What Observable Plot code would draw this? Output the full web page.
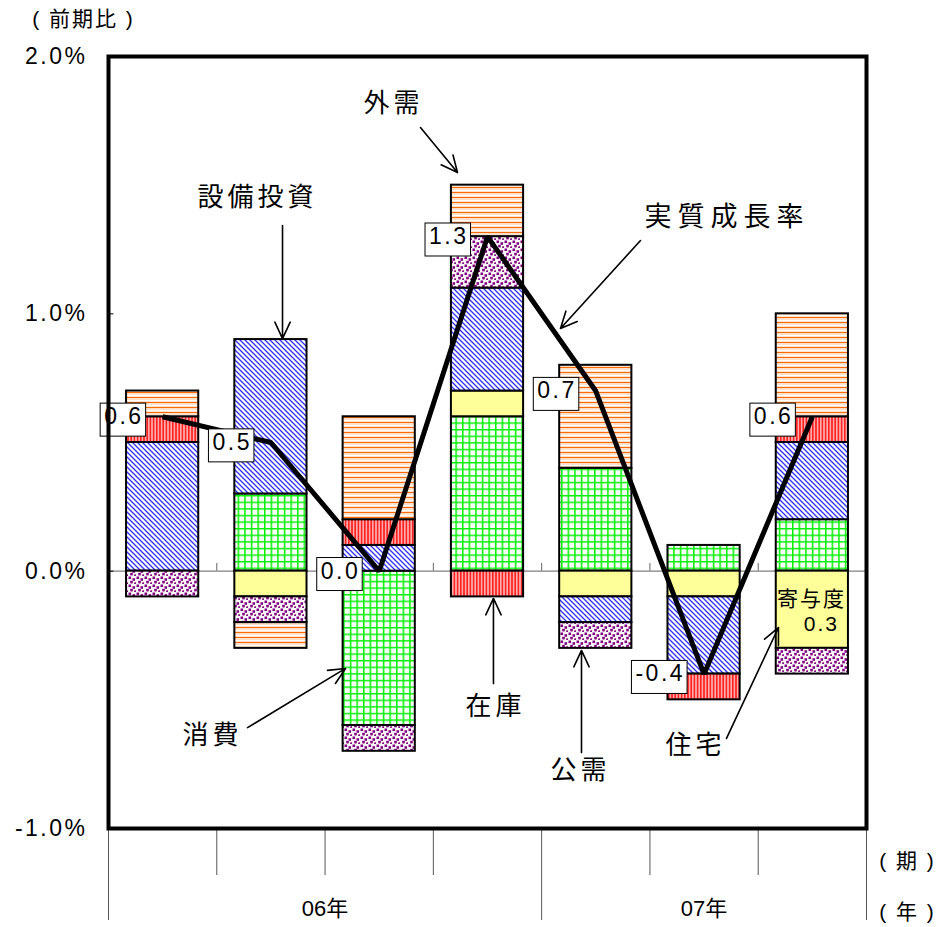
<!DOCTYPE html>
<html><head><meta charset="utf-8">
<script src="https://cdn.jsdelivr.net/npm/d3@7"></script>
<script src="https://cdn.jsdelivr.net/npm/@observablehq/plot@0.6"></script>
<style>
body{margin:0;background:#fff}
g[aria-description="vlabel"] text{letter-spacing:2.5px}
g[aria-description="ytick"] text{letter-spacing:2.5px}
g[aria-description="ann"] text{letter-spacing:4px}
g[aria-description="ann2"] text{letter-spacing:6px}
g[aria-description="kiyo"] text{letter-spacing:2px}
g[aria-description="paren"] text{letter-spacing:2px}
</style>
</head><body>
<svg width="0" height="0" style="position:absolute">
<defs>
<pattern id="p-cons" patternUnits="userSpaceOnUse" width="6.6" height="6.6">
<rect width="6.6" height="6.6" fill="#fff"/>
<path d="M0 0.75H6.6M0.75 0V6.6" stroke="#00f000" stroke-width="1.5"/>
</pattern>
<pattern id="p-house" patternUnits="userSpaceOnUse" width="4" height="4">
<rect width="4" height="4" fill="#ffff99"/>
</pattern>
<pattern id="p-inv" patternUnits="userSpaceOnUse" width="5" height="5">
<rect width="5" height="5" fill="#fff"/>
<path d="M-1 -1L6 6M-1 4L1 6M4 -1L6 1" stroke="#3030ff" stroke-width="1.3"/>
</pattern>
<pattern id="p-pub" patternUnits="userSpaceOnUse" width="8" height="8">
<rect width="8" height="8" fill="#fff"/>
<rect x="0.5" y="0.5" width="2.6" height="2.6" fill="#800080"/>
<rect x="4.5" y="2.2" width="2.6" height="2.6" fill="#800080"/>
<rect x="2.2" y="4.8" width="2.6" height="2.6" fill="#800080"/>
<rect x="6.2" y="6.3" width="1.8" height="1.7" fill="#800080"/>
</pattern>
<pattern id="p-inven" patternUnits="userSpaceOnUse" width="3.2" height="3">
<rect width="3.2" height="3" fill="#ff2020"/>
<path d="M1.6 0V3" stroke="#fff" stroke-width="1"/>
</pattern>
<pattern id="p-ext" patternUnits="userSpaceOnUse" width="5" height="5">
<rect width="5" height="5" fill="#fff"/>
<path d="M0 2.5H5" stroke="#ff6a00" stroke-width="1.4"/>
<path d="M0 4.3H5" stroke="#ffd0b0" stroke-width="0.8"/>
</pattern>
</defs></svg>
<script>
// ---- data ----
const quarters = [1, 2, 3, 4, 5, 6, 7];
const quarterYear = ["06年", "06年", "06年", "06年", "07年", "07年", "07年"];
const components = ["消費", "住宅", "設備投資", "公需", "在庫", "外需"];
const consumption = [0.0, 0.3, -0.6, 0.6, 0.4, 0.1, 0.2];
const housing     = [0.0, -0.1, 0.0, 0.1, -0.1, -0.1, -0.3];
const investment  = [0.5, 0.6, 0.1, 0.4, -0.1, -0.3, 0.3];
const publicDem   = [-0.1, -0.1, -0.1, 0.2, -0.1, 0.0, -0.1];
const inventory   = [0.1, 0.0, 0.1, -0.1, 0.0, -0.1, 0.1];
const external    = [0.1, -0.1, 0.4, 0.2, 0.4, 0.0, 0.4];
const growth      = [0.6, 0.5, 0.0, 1.3, 0.7, -0.4, 0.6];
const yTicks = [2, 1, 0, -1];
const yTickLabels = ["2.0%", "1.0%", "0.0%", "-1.0%"];
// annotations (data coordinates: x in quarter units, y in %)
const annLabels = ["外需", "設備投資", "実質成長率", "消費", "在庫", "公需", "住宅"];
const annTextX  = [3.132, 1.876, 6.212, 1.460, 4.074, 4.859, 5.921];
const annTextY  = [1.817, 1.452, 1.375, -0.639, -0.526, -0.775, -0.678];
const arrowX1   = [3.381, 2.107, 5.413, 1.784, 4.055, 4.868, 6.207];
const arrowY1   = [1.724, 1.343, 1.285, -0.608, -0.437, -0.705, -0.650];
const arrowX2   = [3.723, 2.107, 4.674, 2.689, 4.055, 4.868, 6.687];
const arrowY2   = [1.549, 0.904, 0.943, -0.378, -0.106, -0.308, -0.219];
const kiyoText = ["寄与度", "0.3"];
const kiyoX = [6.992, 7.084];
const kiyoY = [-0.110, -0.207];

// ---- derived tables ----
const series = [consumption, housing, investment, publicDem, inventory, external];
const patterns = ["url(#p-cons)", "url(#p-house)", "url(#p-inv)", "url(#p-pub)", "url(#p-inven)", "url(#p-ext)"];
const stackData = [];
quarters.forEach((q, i) => components.forEach((c, j) => {
  if (series[j][i] !== 0) stackData.push({q, component: c, value: series[j][i]});
}));
const growthData = quarters.map((q, i) => ({q, v: growth[i]}));
const annData = annLabels.map((t, i) => ({t, tx: annTextX[i], ty: annTextY[i], x1: arrowX1[i], y1: arrowY1[i], x2: arrowX2[i], y2: arrowY2[i]}));
const years = Array.from(d3.group(quarters.map((q, i) => ({q, y: quarterYear[i]})), d => d.y), ([y, arr]) => ({y, center: d3.mean(arr, d => d.q), start: d3.min(arr, d => d.q) - 0.5, end: d3.max(arr, d => d.q) + 0.5}));
const yearBounds = Array.from(new Set(years.flatMap(d => [d.start, d.end])));
const quarterBounds = quarters.slice(1).map(q => q - 0.5).filter(b => !yearBounds.includes(b));

const font = "'Liberation Sans','Noto Sans CJK JP',sans-serif";
const chart = Plot.plot({
  width: 937, height: 927,
  marginLeft: 108, marginRight: 71, marginTop: 56, marginBottom: 99,
  x: {domain: [0.5, 7.5], axis: null},
  y: {domain: [-1, 2], axis: null},
  color: {domain: components, range: patterns},
  style: {fontFamily: font, background: "white", overflow: "visible", color: "black"},
  marks: [
    Plot.ruleY([0], {stroke: "#808080", strokeWidth: 1.2}),
    Plot.ruleX(quarters.slice(1).map(q => q - 0.5), {y1: 0, y2: 0.03, stroke: "#666", strokeWidth: 1}),
    Plot.ruleY([1, 0], {x1: 0.5, x2: 0.55, stroke: "black", strokeWidth: 1}),
    Plot.rectY(stackData, Plot.stackY({x1: d => d.q - 1/3, x2: d => d.q + 1/3, y: "value", z: "component", fill: "component", stroke: "black", strokeWidth: 2})),
    Plot.line(growthData, {x: "q", y: "v", stroke: "black", strokeWidth: 5, strokeLinejoin: "miter", strokeLinecap: "butt"}),
    Plot.arrow(annData, {x1: "x1", y1: "y1", x2: "x2", y2: "y2", stroke: "black", strokeWidth: 1.6, headLength: 17, headAngle: 50}),
    Plot.text(annData.filter(d => d.t !== "実質成長率"), {x: "tx", y: "ty", text: "t", fontSize: 26, fill: "black", ariaDescription: "ann"}),
    Plot.text(annData.filter(d => d.t === "実質成長率"), {x: "tx", y: "ty", text: "t", fontSize: 27, fill: "black", ariaDescription: "ann2"}),
    Plot.text(kiyoText, {x: (d, i) => kiyoX[i], y: (d, i) => kiyoY[i], text: d => d, fontSize: 21, fill: "black", ariaDescription: "kiyo"}),
    Plot.text(growthData, {x: "q", y: "v", text: d => d.v.toFixed(1), textAnchor: "end", dx: -19, fontSize: 23, fill: "black", ariaDescription: "vlabel"}),
    Plot.text(yTicks, {x: 0.5, y: d => d, text: (d, i) => yTickLabels[i], textAnchor: "end", dx: -21, fontSize: 23, fill: "black", ariaDescription: "ytick"}),
    Plot.axisX(quarterBounds, {tickSize: 47, tickFormat: () => "", stroke: "#555", strokeWidth: 1}),
    Plot.axisX(yearBounds, {tickSize: 92, tickFormat: () => "", stroke: "#555", strokeWidth: 1}),
    Plot.text(years, {x: "center", frameAnchor: "bottom", lineAnchor: "middle", dy: 80, text: "y", fontSize: 22, fill: "black"}),
    Plot.text(["( 期 )"], {frameAnchor: "bottom-right", textAnchor: "middle", lineAnchor: "middle", dx: 41, dy: 33, fontSize: 21, fill: "black", ariaDescription: "paren"}),
    Plot.text(["( 年 )"], {frameAnchor: "bottom-right", textAnchor: "middle", lineAnchor: "middle", dx: 41, dy: 84, fontSize: 21, fill: "black", ariaDescription: "paren"}),
    Plot.text(["( 前期比 )"], {frameAnchor: "top-left", textAnchor: "middle", lineAnchor: "middle", dx: -25, dy: -37, fontSize: 21, fill: "black", ariaDescription: "paren"}),
    Plot.frame({stroke: "black", strokeWidth: 4})
  ]
});
document.body.append(chart);
// white boxes with border behind the growth-rate labels
document.querySelectorAll('g[aria-description="vlabel"] text').forEach(t => {
  const b = t.getBBox();
  const r = document.createElementNS("http://www.w3.org/2000/svg", "rect");
  r.setAttribute("x", b.x - 4);
  r.setAttribute("y", b.y);
  r.setAttribute("width", b.width + 6);
  r.setAttribute("height", b.height + 7);
  r.setAttribute("fill", "white");
  r.setAttribute("stroke", "black");
  r.setAttribute("stroke-width", "1");
  if (t.getAttribute("transform")) r.setAttribute("transform", t.getAttribute("transform"));
  t.parentNode.insertBefore(r, t);
});
</script>
</body></html>
